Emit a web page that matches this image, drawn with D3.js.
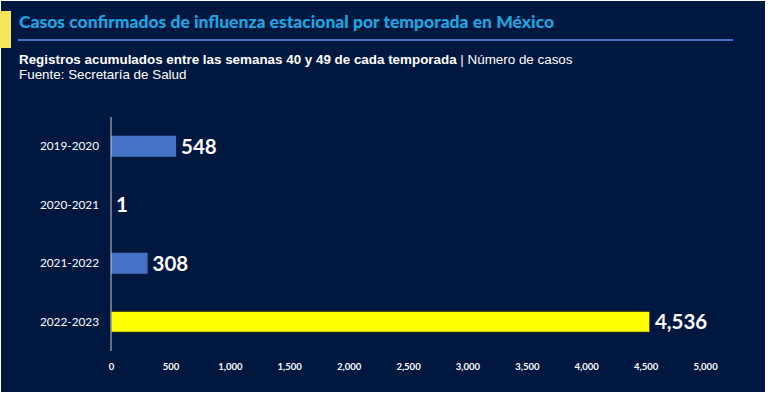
<!DOCTYPE html>
<html lang="es">
<head>
<meta charset="utf-8">
<title>Casos confirmados de influenza estacional</title>
<script src="https://d3js.org/d3.v7.min.js"></script>
<style>
  body { margin: 0; background: #ffffff; }
  .axis-bottom .domain, .axis-bottom line { display: none; }
  .axis-left line { display: none; }
</style>
</head>
<body>
<div id="chart"></div>
<script>
// data
var seasons = ["2019-2020", "2020-2021", "2021-2022", "2022-2023"];
var cases = [548, 1, 308, 4536];
var barColors = ["#4472c4", "#4472c4", "#4472c4", "#ffff00"];
var xTicks = [0, 500, 1000, 1500, 2000, 2500, 3000, 3500, 4000, 4500, 5000];

var width = 768, height = 395;
var svg = d3.select("#chart").append("svg")
  .attr("width", width)
  .attr("height", height);

// background panel
svg.append("rect")
  .attr("x", 1).attr("y", 1)
  .attr("width", 764).attr("height", 391)
  .attr("fill", "#00173f");

// yellow accent
svg.append("rect")
  .attr("x", 0).attr("y", 11)
  .attr("width", 11).attr("height", 37)
  .attr("fill", "#f5e65a");

svg.append("text")
  .attr("x", 19).attr("y", 28)
  .attr("fill", "#1ea6e3")
  .attr("font-family", "Lato, 'Open Sans', sans-serif")
  .attr("font-weight", "900")
  .attr("font-size", "17.5px")
  .text("Casos confirmados de influenza estacional por temporada en México");

svg.append("line")
  .attr("x1", 18).attr("x2", 733)
  .attr("y1", 40).attr("y2", 40)
  .attr("stroke", "#3f72c8")
  .attr("stroke-width", 2);

var sub = svg.append("text")
  .attr("x", 19).attr("y", 64)
  .attr("fill", "#ffffff")
  .attr("font-family", "'Liberation Sans', Arial, sans-serif")
  .attr("font-size", "13.4px");
sub.append("tspan").attr("font-weight", "bold")
  .text("Registros acumulados entre las semanas 40 y 49 de cada temporada");
sub.append("tspan").text(" | Número de casos");

svg.append("text")
  .attr("x", 19).attr("y", 79)
  .attr("fill", "#ffffff")
  .attr("font-family", "'Liberation Sans', Arial, sans-serif")
  .attr("font-size", "13.4px")
  .text("Fuente: Secretaría de Salud");

// scales
var x = d3.scaleLinear().domain([0, 5000]).range([111, 705]);
var y = d3.scaleBand().domain(seasons).range([117, 351])
  .paddingInner(0.64).paddingOuter(0.32);

var data = seasons.map(function(s, i) { return {season: s, value: cases[i], color: barColors[i]}; });

svg.selectAll("rect.bar")
  .data(data)
  .enter().append("rect")
  .attr("class", "bar")
  .attr("x", x(0))
  .attr("y", d => y(d.season))
  .attr("width", d => x(d.value) - x(0))
  .attr("height", y.bandwidth())
  .attr("fill", d => d.color)
  .attr("stroke", d => d.color === "#ffff00" ? "#1a1a1a" : "none")
  .attr("stroke-width", 1);

svg.selectAll("text.val")
  .data(data)
  .enter().append("text")
  .attr("class", "val")
  .attr("x", d => x(d.value) + 5)
  .attr("y", d => y(d.season) + y.bandwidth() / 2)
  .attr("dy", "0.36em")
  .attr("fill", "#ffffff")
  .attr("font-family", "Lato, 'Open Sans', sans-serif")
  .attr("font-weight", "bold")
  .attr("font-size", "20.5px")
  .text(d => d3.format(",")(d.value));

// y axis
var yAxis = svg.append("g")
  .attr("class", "axis-left")
  .attr("transform", "translate(" + x(0) + ",0)")
  .call(d3.axisLeft(y).tickSize(0).tickPadding(12));
yAxis.select(".domain").attr("stroke", "#c9ccd4").attr("d", "M0,117V351");
yAxis.selectAll("text")
  .attr("fill", "#ffffff")
  .attr("font-family", "Lato, 'Open Sans', sans-serif")
  .attr("font-size", "11.8px");

// x axis
var xAxis = svg.append("g")
  .attr("class", "axis-bottom")
  .attr("transform", "translate(0,357)")
  .call(d3.axisBottom(x).tickValues(xTicks).tickFormat(d3.format(",")).tickSize(0).tickPadding(6));
xAxis.selectAll("text")
  .attr("fill", "#ffffff")
  .attr("font-family", "Lato, sans-serif")
  .attr("font-weight", "bold")
  .attr("font-size", "9.5px");
</script>
</body>
</html>
